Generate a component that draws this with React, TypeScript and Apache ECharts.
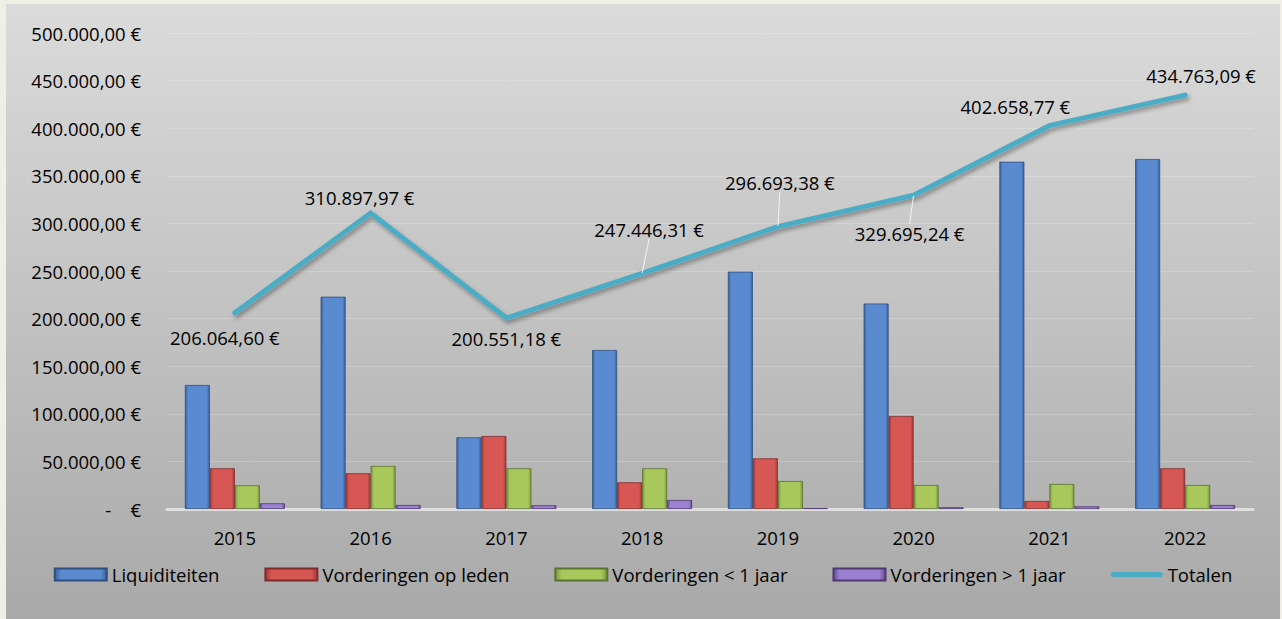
import React, { useEffect, useRef } from "react";
import * as echarts from "echarts";

const years = ["2015", "2016", "2017", "2018", "2019", "2020", "2021", "2022"];
const liquiditeiten = [130250, 223000, 75300, 167000, 249300, 215800, 364800, 367600];
const vorderingenLeden = [42750, 37500, 76700, 28000, 53200, 97700, 8400, 42750];
const vorderingenKort = [24900, 45200, 42750, 42750, 29400, 25200, 26300, 25200];
const vorderingenLang = [6000, 4200, 3900, 9450, 1000, 1800, 2800, 4200];
const totalen = [206064.6, 310897.97, 200551.18, 247446.31, 296693.38, 329695.24, 402658.77, 434763.09];

const yMin = 0;
const yMax = 500000;
const yInterval = 50000;

// label placement (layout only)
const labelShift: [number, number][] = [
  [-10, 25], [-11, -16], [0, 20], [7, -44], [2, -44], [-4, 38], [-34, -19], [16, -20],
];
const withGuide = [false, false, false, true, true, true, false, false];

const FONT = "'Open Sans', 'Noto Sans', sans-serif";
const FS = 18.5;

function fmtEuro(v: number): string {
  const fixed = v.toFixed(2);
  const [i, d] = fixed.split(".");
  const intS = i.replace(/\B(?=(\d{3})+(?!\d))/g, ".");
  return `${intS},${d} €`;
}

function barGrad(dark: string, mid: string) {
  return new echarts.graphic.LinearGradient(0, 0, 1, 0, [
    { offset: 0, color: dark },
    { offset: 0.12, color: mid },
    { offset: 0.88, color: mid },
    { offset: 1, color: dark },
  ]);
}

export default function App() {
  const ref = useRef<HTMLDivElement>(null);
  useEffect(() => {
    if (!ref.current) return;
    const chart = echarts.init(ref.current, undefined, { renderer: "svg" });
    const barBase = {
      type: "bar" as const,
      barWidth: 25,
      barGap: "0%",
    };
    chart.setOption({
      animation: false,
      backgroundColor: {
        type: "linear",
        x: 0, y: 0, x2: 0, y2: 1,
        colorStops: [
          { offset: 0, color: "#dbdbdb" },
          { offset: 1, color: "#a9a9a9" },
        ],
      },
      textStyle: { fontFamily: FONT },
      grid: { left: 161, right: 27, top: 29, bottom: 110 },
      legend: {
        bottom: 30,
        left: "center",
        itemWidth: 52,
        itemHeight: 12,
        itemGap: 45,
        textStyle: { fontSize: FS, color: "#000", fontFamily: FONT },
        data: [
          { name: "Liquiditeiten", icon: "rect" },
          { name: "Vorderingen op leden", icon: "rect" },
          { name: "Vorderingen < 1 jaar", icon: "rect" },
          { name: "Vorderingen > 1 jaar", icon: "rect" },
          { name: "Totalen", icon: "path://M2.5,0H49.5A2.5,2.5,0,0,1,49.5,5H2.5A2.5,2.5,0,0,1,2.5,0Z" },
        ],
      },
      xAxis: {
        type: "category",
        data: years,
        axisTick: { show: false },
        axisLine: { show: true, lineStyle: { color: "#dedede", width: 3 } },
        axisLabel: { fontSize: FS, color: "#000", margin: 19, fontFamily: FONT },
      },
      yAxis: {
        type: "value",
        min: yMin,
        max: yMax,
        interval: yInterval,
        axisLine: { show: false },
        axisTick: { show: false },
        splitLine: { lineStyle: { color: "rgba(255,255,255,0.2)", width: 1 } },
        axisLabel: {
          fontSize: FS,
          color: "#000",
          margin: 26,
          fontFamily: FONT,
          formatter: (v: number) => (v === 0 ? "-\u00a0\u00a0\u00a0\u00a0€" : fmtEuro(v)),
        },
      },
      series: [
        {
          ...barBase,
          name: "Liquiditeiten",
          data: liquiditeiten,
          itemStyle: { color: barGrad("#3a62a0", "#5a8bd0"), borderColor: "#2f4f80", borderWidth: 0.8 },
        },
        {
          ...barBase,
          name: "Vorderingen op leden",
          data: vorderingenLeden,
          itemStyle: { color: barGrad("#a33a37", "#d65753"), borderColor: "#7e2b29", borderWidth: 0.8 },
        },
        {
          ...barBase,
          name: "Vorderingen < 1 jaar",
          data: vorderingenKort,
          itemStyle: { color: barGrad("#7a973c", "#a8c85c"), borderColor: "#5b7230", borderWidth: 0.8 },
        },
        {
          ...barBase,
          name: "Vorderingen > 1 jaar",
          data: vorderingenLang,
          itemStyle: { color: barGrad("#674c93", "#9c80d2"), borderColor: "#4d3870", borderWidth: 0.8 },
        },
        {
          type: "line",
          name: "Totalen",
          symbol: "circle",
          symbolSize: 1,
          showSymbol: true,
          data: totalen.map((v, i) => ({
            value: v,
            labelLine: { show: withGuide[i] },
          })),
          lineStyle: {
            color: "#4bacc6",
            width: 5,
            cap: "round",
            join: "miter",
            shadowColor: "rgba(0,0,0,0.35)",
            shadowBlur: 4,
            shadowOffsetX: 2,
            shadowOffsetY: 3,
          },
          itemStyle: { color: "#4bacc6" },
          label: {
            show: true,
            position: "inside",
            fontSize: FS,
            color: "#000",
            fontFamily: FONT,
            formatter: (p: any) => fmtEuro(p.value),
          },
          labelLine: {
            show: true,
            smooth: false,
            lineStyle: { color: "#f4f4f4", width: 1 },
          },
          labelLayout: (p: any) => ({
            dx: labelShift[p.dataIndex][0],
            dy: labelShift[p.dataIndex][1],
          }),
          z: 5,
        },
      ],
    });
    return () => chart.dispose();
  }, []);

  return (
    <div style={{ position: "fixed", left: 0, top: 0, width: 1282, height: 619, background: "#f0efe3" }}>
      <div ref={ref} style={{ position: "absolute", left: 6, top: 4, width: 1274, height: 615 }} />
    </div>
  );
}
